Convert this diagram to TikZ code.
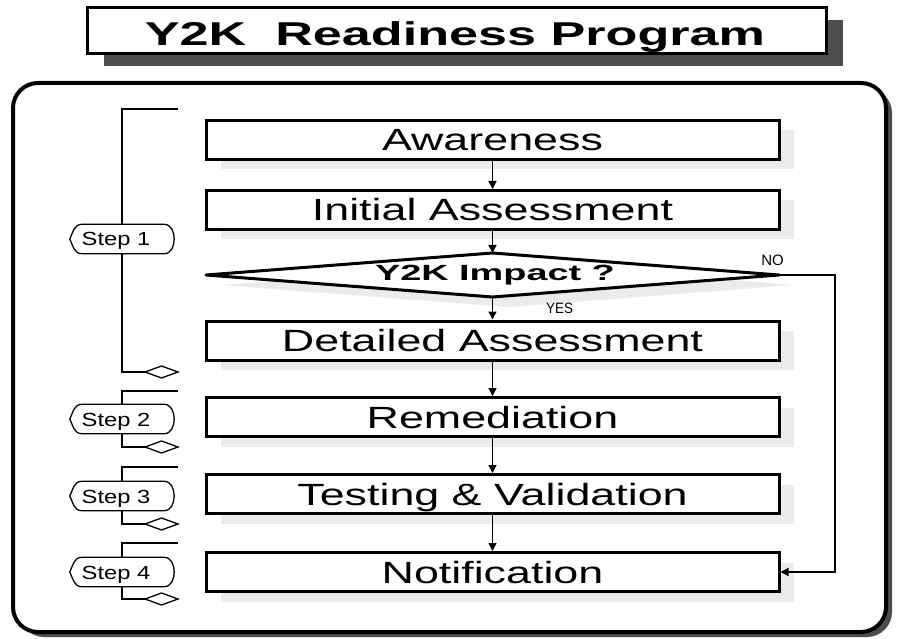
\documentclass[tikz,border=0pt]{standalone}
\usepackage{fontspec}
\setmainfont{Liberation Sans}
\usetikzlibrary{arrows.meta,shadows,calc}
\definecolor{lsh}{HTML}{EBEBEB}
\definecolor{dsh}{HTML}{4D4D4D}
\newcommand\wtext[2]{\scalebox{#1}[1]{#2}}
\begin{document}
\begin{tikzpicture}[x=1pt,y=-1pt,
  proc/.style={draw, line width=3pt, fill=white, minimum width=573pt, minimum height=39pt,
    inner sep=0pt, text height=22pt, text depth=0pt, font=\fontsize{30.7}{32}\selectfont,
    drop shadow={shadow xshift=15pt, shadow yshift=-10pt, fill=lsh, opacity=1}},
  arr/.style={line width=1.3pt, -{Triangle[length=8pt,width=8pt]}},
  brk/.style={line width=1.3pt},
  steplab/.style={minimum width=104pt, minimum height=29pt, inner sep=0pt,
    text height=14pt, text depth=0pt, font=\fontsize{19}{21}\selectfont},
  stepline/.style={line width=1.3pt},
  smalllab/.style={inner sep=0pt, font=\fontsize{15}{16}\selectfont}
]
\useasboundingbox (0,0) rectangle (897,639);

% outer frame
\node[draw, line width=4pt, rounded corners=25pt, fill=white, minimum width=873pt,
  minimum height=549pt, drop shadow={shadow xshift=6pt, shadow yshift=-5pt, fill=dsh, opacity=1}]
  (frame) at (449.5,357.5) {};

% title
\node[draw, line width=3pt, fill=white, minimum width=739pt, minimum height=46pt, inner sep=0pt,
  drop shadow={shadow xshift=17pt, shadow yshift=-12pt, fill=dsh, opacity=1}]
  (title) at (456.5,31) {};
\node[inner sep=0pt, text height=24pt, text depth=0pt, font=\bfseries\fontsize{33}{36}\selectfont]
  (titletext) at (455,34) {\wtext{1.58}{Y2K~~Readiness Program}};

% process boxes
\node[proc] (aw) at (492.5,140) {\wtext{1.46}{Awareness}};
\node[proc] (ia) at (492.5,210) {\wtext{1.46}{Initial Assessment}};
\node[proc] (da) at (492.5,340.5) {\wtext{1.46}{Detailed Assessment}};
\node[proc] (re) at (492.5,417) {\wtext{1.46}{Remediation}};
\node[proc] (tv) at (492.5,494) {\wtext{1.46}{Testing \& Validation}};
\node[proc] (nt) at (492.5,572) {\wtext{1.46}{Notification}};

% decision diamond
\coordinate (impN) at (492.5,253);
\coordinate (impS) at (492.5,297);
\coordinate (impW) at (206,275);
\coordinate (impE) at (779,275);
\fill[lsh] (507.5,263) -- (794,285) -- (507.5,307) -- (221,285) -- cycle;
\draw[line width=3pt, line join=round, fill=white] (impN) -- (impE) -- (impS) -- (impW) -- cycle;
\node[inner sep=0pt, font=\bfseries\fontsize{22}{24}\selectfont] (imp) at (495,275.5) {\wtext{1.72}{Y2K Impact ?}};

% arrows
\draw[arr] (aw) -- (ia);
\draw[arr] (ia) -- (impN);
\draw[arr] (impS) -- (da);
\draw[arr] (da) -- (re);
\draw[arr] (re) -- (tv);
\draw[arr] (tv) -- (nt);
\coordinate (nocor) at (835,275);
\draw[arr] (impE) -- (nocor) |- (nt.east);

\node[smalllab] (nolab) at (772.5,260.5) {NO};
\node[smalllab] (yeslab) at (559.5,308.5) {\wtext{0.9}{YES}};

% step labels
\node[steplab] (s1) at (122,239) {\wtext{1.25}{Step 1}\kern12pt};
\node[steplab] (s2) at (122,419) {\wtext{1.25}{Step 2}\kern12pt};
\node[steplab] (s3) at (122,496) {\wtext{1.25}{Step 3}\kern12pt};
\node[steplab] (s4) at (122,572) {\wtext{1.25}{Step 4}\kern12pt};

\coordinate (t1) at (178,109); \coordinate (e1) at (145,372);
\coordinate (t2) at (178,391); \coordinate (e2) at (145,447);
\coordinate (t3) at (178,467); \coordinate (e3) at (145,524);
\coordinate (t4) at (178,543); \coordinate (e4) at (145,599);

\foreach \k in {1,2,3,4}{
  \draw[brk] (t\k) -| (s\k.north);
  \draw[brk] (s\k.south) |- (e\k);
  \draw[brk, fill=white] (e\k) -- ++(16.5,-6) -- ++(16.5,6) -- ++(-16.5,6) -- cycle;
  \draw[stepline] ([xshift=12pt]s\k.north west) -- ([xshift=-10pt]s\k.north east)
    .. controls +(7,0) and +(0,-7) .. (s\k.east)
    .. controls +(0,7) and +(7,0) .. ([xshift=-10pt]s\k.south east)
    -- ([xshift=12pt]s\k.south west)
    .. controls +(-8,0) and +(3,6) .. (s\k.west)
    .. controls +(3,-6) and +(-8,0) .. ([xshift=12pt]s\k.north west);
}
\end{tikzpicture}
\end{document}
